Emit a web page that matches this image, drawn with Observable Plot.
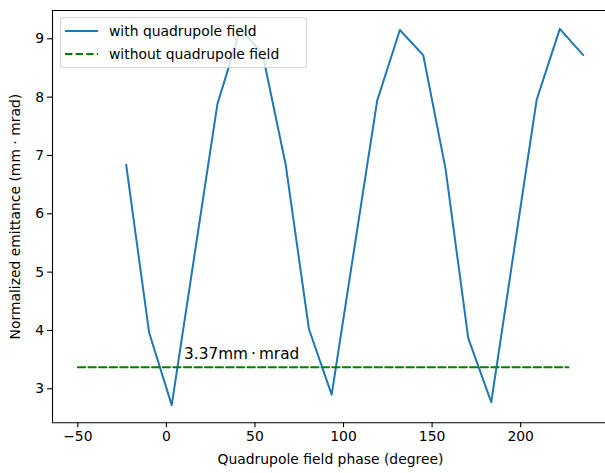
<!DOCTYPE html>
<html>
<head>
<meta charset="utf-8">
<script src="https://cdn.jsdelivr.net/npm/d3@7"></script>
<script src="https://cdn.jsdelivr.net/npm/@observablehq/plot@0.6"></script>
<style>
  html, body { margin: 0; padding: 0; background: #fff; }
  #wrap { position: relative; width: 605px; height: 473px; overflow: hidden; font-family: "DejaVu Sans", sans-serif; }
  #legend {
    position: absolute; left: 60px; top: 17px; width: 245px; height: 49px;
    background: rgba(255,255,255,0.8); border: 1px solid rgba(204,204,204,0.8);
    border-radius: 3px; font-size: 13.9px; color: #000;
  }
  #legend .row { position: absolute; left: 0; height: 18px; display: flex; align-items: center; }
  #legend svg { margin-left: 4px; margin-right: 11px; }
</style>
</head>
<body>
<div id="wrap">
  <div id="chart"></div>
  <div id="legend">
    <div class="row" style="top:4px"><svg width="33" height="4"><line x1="0" x2="33" y1="2" y2="2" stroke="#1f77b4" stroke-width="2"/></svg><span>with quadrupole field</span></div>
    <div class="row" style="top:27px"><svg width="33" height="4"><line x1="0" x2="33" y1="2" y2="2" stroke="#008000" stroke-width="2" stroke-dasharray="7.4,3.2"/></svg><span>without quadrupole field</span></div>
  </div>
</div>
<script>
// Emittance vs. quadrupole field phase
const phase = [-22.7, -9.8, 3.0, 28.8, 41.8, 54.3, 67.3, 80.5, 93.3, 119.0, 131.8, 145.0, 157.6, 170.4, 183.4, 209.0, 222.1, 235.3];
const emittance = [6.84, 3.97, 2.72, 7.88, 9.17, 8.74, 6.85, 4.02, 2.90, 7.94, 9.15, 8.72, 6.77, 3.87, 2.77, 7.95, 9.17, 8.72];

// Reference emittance without the quadrupole field
const baseline = 3.37;
const baselinePhase = [-50, 227];
const baselineLabel = `${baseline}mm\u2009·\u2009mrad`;
const labelPhase = 10;
const labelEmittance = 3.5;

const xTicks = [-50, 0, 50, 100, 150, 200];
const yTicks = [3, 4, 5, 6, 7, 8, 9];

const series = phase.map((p, i) => ({phase: p, emittance: emittance[i]}));
const ref = baselinePhase.map(p => ({phase: p, emittance: baseline}));

const xDomain = [-64.3, 247.9];
const yDomain = [2.417, 9.485];
const fs = 13.9;

const chart = Plot.plot({
  width: 605,
  height: 473,
  marginLeft: 52,
  marginRight: 0,
  marginTop: 10,
  marginBottom: 50.7,
  style: {fontFamily: "DejaVu Sans, sans-serif", fontSize: fs + "px", color: "#000", background: "#fff"},
  x: {domain: xDomain},
  y: {domain: yDomain},
  marks: [
    Plot.line(series, {x: "phase", y: "emittance", stroke: "#1f77b4", strokeWidth: 2}),
    Plot.line(ref, {x: "phase", y: "emittance", stroke: "#008000", strokeWidth: 2, strokeDasharray: "7.4,3.2"}),
    Plot.text([{phase: labelPhase, emittance: labelEmittance}], {
      x: "phase", y: "emittance", text: () => baselineLabel,
      textAnchor: "start", lineAnchor: "bottom", dy: -1, fontSize: 15.3, fill: "#000"
    }),
    // frame: left, top and bottom spines
    Plot.ruleX([xDomain[0]], {stroke: "#000", strokeWidth: 1.1}),
    Plot.ruleY([yDomain[0], yDomain[1]], {stroke: "#000", strokeWidth: 1.1}),
    Plot.axisX({
      ticks: xTicks, tickSize: 4.9, tickPadding: 3.5, fontSize: fs,
      tickFormat: d => d < 0 ? "\u2212" + Math.abs(d) : String(d),
      strokeWidth: 1.1, stroke: "#000", label: null
    }),
    Plot.text(["Quadrupole field phase (degree)"], {
      frameAnchor: "bottom", text: d => d, lineAnchor: "top", dy: 31, dx: 1.5, fontSize: fs, fill: "#000"
    }),
    Plot.axisY({
      ticks: yTicks, tickSize: 4.9, tickPadding: 3.5, fontSize: fs,
      tickFormat: d => String(d),
      strokeWidth: 1.1, stroke: "#000",
      label: "Normalized emittance (mm · mrad)", labelAnchor: "center", labelArrow: "none", labelOffset: 42
    })
  ]
});
document.getElementById("chart").appendChild(chart);
</script>
</body>
</html>
